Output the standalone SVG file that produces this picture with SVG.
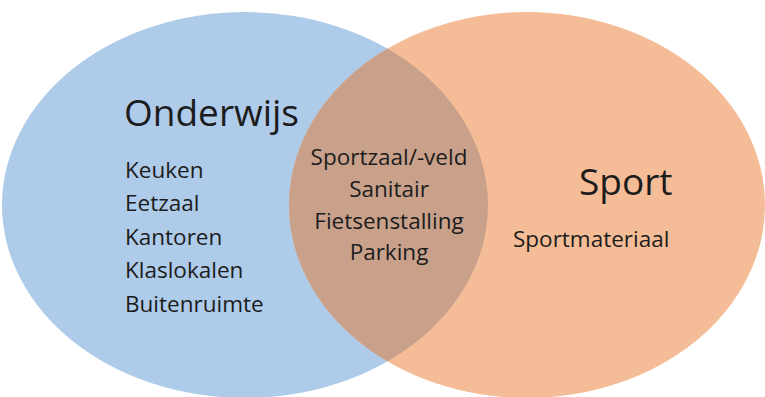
<svg xmlns="http://www.w3.org/2000/svg" width="765" height="397" viewBox="0 0 765 397">
  <style>
    .lbl { font-family: "Open Sans", "Noto Sans", "Liberation Sans", sans-serif; fill: #1c1c1c; }
    .title { font-size: 37px; }
    .item { font-size: 22.5px; }
    .mid { text-anchor: middle; }
  </style>
  <defs>
    <clipPath id="clipSport">
      <ellipse cx="527" cy="205" rx="238" ry="193"/>
    </clipPath>
  </defs>
  <rect width="765" height="397" fill="#ffffff"/>

  <g id="onderwijs">
    <ellipse cx="245" cy="205" rx="243" ry="193" fill="#aecbe9"/>
  </g>
  <g id="sport">
    <ellipse cx="527" cy="205" rx="238" ry="193" fill="#f5bd97"/>
  </g>
  <g id="overlap">
    <ellipse cx="245" cy="205" rx="243" ry="193" fill="#c9a18b" clip-path="url(#clipSport)"/>
  </g>

  <g id="onderwijs-text" class="lbl">
    <text class="title" x="124" y="126">Onderwijs</text>
    <text class="item" x="125" y="178">Keuken</text>
    <text class="item" x="125" y="211">Eetzaal</text>
    <text class="item" x="125" y="245">Kantoren</text>
    <text class="item" x="125" y="278">Klaslokalen</text>
    <text class="item" x="125" y="312">Buitenruimte</text>
  </g>

  <g id="overlap-text" class="lbl mid">
    <text class="item" x="389" y="165">Sportzaal/-veld</text>
    <text class="item" x="389" y="197">Sanitair</text>
    <text class="item" x="389" y="229">Fietsenstalling</text>
    <text class="item" x="389" y="260">Parking</text>
  </g>

  <g id="sport-text" class="lbl">
    <text class="title" x="579" y="195">Sport</text>
    <text class="item" x="513" y="247">Sportmateriaal</text>
  </g>

  <g id="connectors"></g>
</svg>
